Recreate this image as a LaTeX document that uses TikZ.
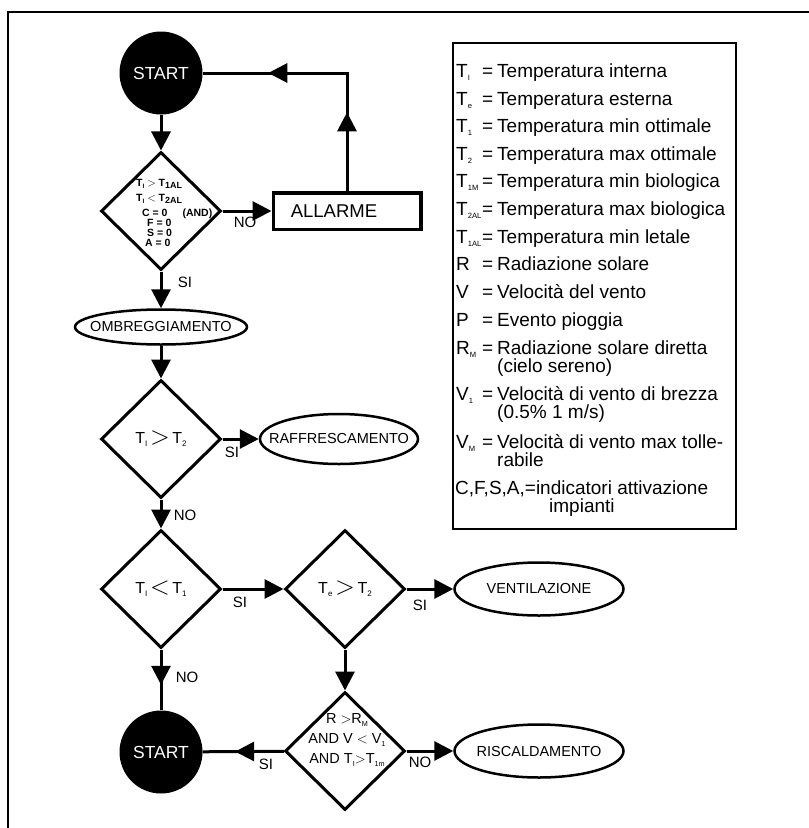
\documentclass[tikz,border=0pt]{standalone}
\usepackage{fontspec}
\setmainfont{Liberation Sans}
\usetikzlibrary{arrows.meta,shapes,decorations.markings}
\newcommand{\subtxt}[2][0.5]{\raisebox{-0.35ex}{\scalebox{#1}{#2}}}
\newcommand{\bigrel}[1]{\raisebox{-0.15ex}{\scalebox{1.5}{$#1$}}}
\tikzstyle{terminal}=[circle,fill=black,text=white,minimum size=83pt,inner sep=0pt,font=\fontsize{17.5}{19}\selectfont]
\tikzstyle{decision}=[diamond,draw,line width=3pt,minimum width=120pt,minimum height=118pt,inner sep=0pt,font=\fontsize{16}{18}\selectfont]
\tikzstyle{action}=[ellipse,draw,line width=2.5pt,inner xsep=-15pt,inner ysep=0pt,font=\fontsize{14.5}{16}\selectfont]
\tikzstyle{alarm box}=[rectangle,draw,line width=3.5pt,minimum width=147.5pt,minimum height=36.5pt,font=\fontsize{18.5}{20}\selectfont]
\tikzstyle{answer}=[inner sep=0pt,font=\fontsize{15}{17}\selectfont]
\tikzstyle{legend text}=[inner sep=0pt,anchor=base west,font=\fontsize{19}{19}\selectfont]
\tikzstyle{flow edge}=[draw,line width=3pt,-{Triangle[width=19pt,length=19pt]}]
\tikzset{mid edge/.style={draw,line width=3pt,postaction={decorate},
    decoration={markings,mark=at position #1 with {\arrow{Triangle[width=19pt,length=19pt]}}}}}
\tikzstyle{loop edge}=[draw,line width=3pt,postaction={decorate},
    decoration={markings,mark=at position 0.3 with {\arrow{Triangle[width=19pt,length=19pt]}},
    mark=at position 0.75 with {\arrow{Triangle[width=19pt,length=19pt]}}}]

\begin{document}
\begin{tikzpicture}[x=1pt,y=-1pt]
    \useasboundingbox (0,0) rectangle (809,828);
    % Frame and legend box
    \draw[line width=2pt] (809,12) -- (8,12) -- (8,828);
    \draw[line width=1.5pt] (453,43) rectangle (736,529);

    % First we draw the nodes of the flow chart
    \foreach \pos/\name in {{(161,73)/start1}, {(161,752)/start2}}
        \node[terminal] (\name) at \pos {START};
    \foreach \pos/\name/\txt in {{(161,211)/cond1/}, {(161,439)/cond2/T\subtxt{I}\,\bigrel{>}\,T\subtxt{2}}, {(161,589)/cond3/T\subtxt{I}\,\bigrel{<}\,T\subtxt{1}}, {(345,589)/cond4/T\subtxt{e}\,\bigrel{>}\,T\subtxt{2}}, {(345,751)/cond5/}}
        \node[decision] (\name) at \pos {\txt};
    \node[alarm box] (alarm) at (347,211) {ALLARME\hspace*{26pt}};
    \node[action, minimum width=172pt, minimum height=35pt] (shade) at (161,327) {OMBREGGIAMENTO};
    \node[action, minimum width=158pt, minimum height=50pt] (cool) at (339,439) {RAFFRESCAMENTO};
    \node[action, minimum width=169pt, minimum height=53pt] (vent) at (539,589) {VENTILAZIONE};
    \node[action, minimum width=169pt, minimum height=53pt] (heat) at (539,751) {RISCALDAMENTO};

    % Texts of the two larger tests
    \node[anchor=west, align=left, inner sep=0pt, font=\bfseries\fontsize{10.5}{10}\selectfont] (cond1txt) at (136,213)
        {T\subtxt[0.6]{I} $>$ T\subtxt[0.85]{1AL}\\[5pt] T\subtxt[0.6]{I} $<$ T\subtxt[0.85]{2AL}\\[5pt]
         \hspace*{6pt}C = 0\hspace{15pt}(AND)\\ \hspace*{11pt}F = 0\\ \hspace*{11pt}S = 0\\ \hspace*{9pt}A = 0};
    \node[align=center, inner sep=0pt, font=\fontsize{14.5}{20}\selectfont] (cond5txt) at (347,740)
        {R $>$R\subtxt{M}\\ AND V $<$ V\subtxt{1}\\ AND T\subtxt{I}$>$T\subtxt{1m}};

    % Connect nodes with edges
    \foreach \source/\dest in {start1/cond1, cond1/alarm, cond1/shade, shade/cond2, cond2/cool, cond2/cond3, cond3/cond4, cond4/vent, cond4/cond5, cond5/heat}
        \path[flow edge] (\source) -- (\dest);
    \path[loop edge] (alarm.north) |- (start1.east);
    \path[mid edge=0.58] (cond3) -- (start2);
    \path[mid edge=0.6] (cond5) -- (start2);

    % Answers on the edges
    \foreach \pos/\name/\txt in {{(245,222)/no1/NO}, {(185,282)/si1/SI}, {(232,452)/si2/SI}, {(185,515)/no2/NO}, {(240,602)/si3/SI}, {(420,605)/si4/SI}, {(187,677)/no3/NO}, {(266,764)/si5/SI}, {(420,762)/no4/NO}}
        \node[answer] (\name) at \pos {\txt};

    % Legend
    \foreach \y/\sym/\desc in {77/T\subtxt[0.4]{I}/Temperatura interna, 105/T\subtxt[0.4]{e}/Temperatura esterna, 132/T\subtxt[0.4]{1}/Temperatura min ottimale, 160/T\subtxt[0.4]{2}/Temperatura max ottimale, 187/T\subtxt[0.4]{1M}/Temperatura min biologica, 215/T\subtxt[0.4]{2AL}/Temperatura max biologica, 243/T\subtxt[0.4]{1AL}/Temperatura min letale, 270/R/Radiazione solare, 298/V/Velocità del vento, 326/P/Evento pioggia, 354/R\subtxt[0.4]{M}/Radiazione solare diretta, 400/V\subtxt[0.4]{1}/Velocità di vento di brezza, 448/V\subtxt[0.4]{M}/Velocità di vento max tolle-}
    {
        \node[legend text] (sym\y) at (456,\y) {\sym};
        \node[legend text] (eq\y) at (482,\y) {=};
        \node[legend text] (desc\y) at (497,\y) {\desc};
    }
    \foreach \pos/\name/\txt in {{(497,372)/cont1/(cielo sereno)}, {(497,418)/cont2/{(0.5\% 1 m/s)}}, {(497,466)/cont3/rabile}, {(549,512)/cont4/impianti}}
        \node[legend text] (\name) at \pos {\txt};
    \node[legend text] (csa) at (455,494) {C,F,S,A,=indicatori attivazione};
\end{tikzpicture}
\end{document}
